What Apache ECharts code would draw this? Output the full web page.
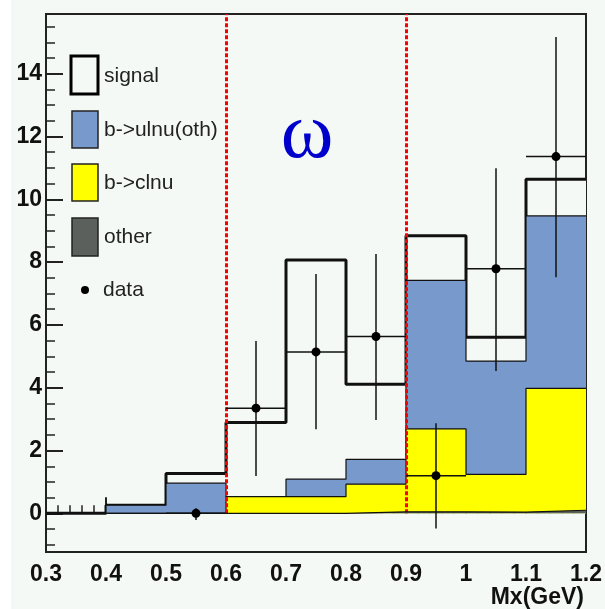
<!DOCTYPE html>
<html>
<head>
<meta charset="utf-8">
<script src="https://cdn.jsdelivr.net/npm/echarts@6/dist/echarts.min.js"></script>
<style>
  html, body { margin: 0; padding: 0; background: #ffffff; }
  #chart { width: 605px; height: 609px; }
</style>
</head>
<body>
<div id="chart"></div>
<script>
// histogram bins in Mx (GeV)
const binEdges = [0.3, 0.4, 0.5, 0.6, 0.7, 0.8, 0.9, 1.0, 1.1, 1.2];
// stacked components, per bin (bottom to top)
const otherVals  = [0, 0, 0, 0, 0, 0.05, 0.05, 0.04, 0.1];
const clnuVals   = [0, 0, 0, 0.53, 0.53, 0.88, 2.64, 1.2, 3.88];
const ulnuVals   = [0, 0.26, 0.96, 0, 0.56, 0.79, 4.73, 3.61, 5.49];
const signalVals = [0, 0, 0.31, 2.36, 6.98, 2.39, 1.42, 0.76, 1.17];
// data points with errors
const dataVals    = [null, null, 0, 3.35, 5.14, 5.63, 1.2, 7.79, 11.36];
const dataErrUp   = [null, null, 0.16, 2.14, 2.48, 2.63, 1.67, 3.2, 3.81];
const dataErrDown = [null, null, 0.21, 2.16, 2.46, 2.66, 1.68, 3.26, 3.84];
// axes
const yTicks = [0, 2, 4, 6, 8, 10, 12, 14];
const yMinorTicks = [-1, -0.5, 0.5, 1, 1.5, 2.5, 3, 3.5, 4.5, 5, 5.5, 6.5, 7, 7.5,
  8.5, 9, 9.5, 10.5, 11, 11.5, 12.5, 13, 13.5, 14.5, 15, 15.5];
const cutLines = [0.6, 0.9];

const BG = '#f5f9f6';
const FONT = '"Liberation Sans", Arial, sans-serif';

// cumulative sums for the stack
function addArr(a, b) { return a.map((v, i) => v + b[i]); }
const cumOther = otherVals.slice();
const cumClnu = addArr(cumOther, clnuVals);
const cumUlnu = addArr(cumClnu, ulnuVals);
const cumTotal = addArr(cumUlnu, signalVals);

function stepData(vals) {
  const pts = vals.map((v, i) => [binEdges[i], v]);
  pts.push([binEdges[binEdges.length - 1], vals[vals.length - 1]]);
  return pts;
}

function histSeries(name, vals, fill, lineW, z) {
  return {
    name: name,
    type: 'line',
    step: 'end',
    data: stepData(vals),
    showSymbol: false,
    symbol: 'none',
    silent: true,
    z: z,
    lineStyle: { color: '#111', width: lineW },
    areaStyle: { color: fill, opacity: 1 }
  };
}

const pointData = [];
dataVals.forEach((v, i) => {
  if (v === null) return;
  pointData.push([binEdges[i], binEdges[i + 1], v, v - dataErrDown[i], v + dataErrUp[i]]);
});

let chart = echarts.init(document.getElementById('chart'));
let option = {
  backgroundColor: BG,
  animation: false,
  grid: {
    left: 46, right: 19, top: 14, bottom: 57,
    show: true, borderColor: '#222', borderWidth: 2, backgroundColor: 'transparent'
  },
  xAxis: {
    type: 'value',
    min: 0.3, max: 1.2, interval: 0.1,
    axisLine: { show: false },
    axisTick: { show: true, inside: true, length: 16, lineStyle: { color: '#222', width: 2 } },
    minorTick: { show: true, splitNumber: 5, length: 8, lineStyle: { color: '#222', width: 1.5 } },
    splitLine: { show: false },
    axisLabel: { fontFamily: FONT, fontWeight: 'bold', fontSize: 23, color: '#111', margin: 11 }
  },
  yAxis: [
    {
      type: 'value',
      min: -1.23, max: 15.9,
      axisLine: { show: false },
      axisTick: { show: true, inside: true, length: 17, customValues: yTicks, lineStyle: { color: '#222', width: 2 } },
      splitLine: { show: false },
      axisLabel: { customValues: yTicks, fontFamily: FONT, fontWeight: 'bold', fontSize: 23, color: '#111', margin: 4 }
    },
    {
      type: 'value',
      position: 'left',
      min: -1.23, max: 15.9,
      axisLine: { show: false },
      axisTick: { show: true, inside: true, length: 9, customValues: yMinorTicks, lineStyle: { color: '#222', width: 1.5 } },
      splitLine: { show: false },
      axisLabel: { show: false }
    }
  ],
  series: [
    histSeries('signal', cumTotal, BG, 3, 2),
    histSeries('b->ulnu(oth)', cumUlnu, '#7899cc', 1.2, 3),
    histSeries('b->clnu', cumClnu, '#ffff00', 1.2, 4),
    histSeries('other', cumOther, '#5b605c', 1.2, 5),
    {
      name: 'data',
      type: 'custom',
      z: 8,
      silent: true,
      data: pointData,
      renderItem: function (params, api) {
        const x0 = api.value(0), x1 = api.value(1), y = api.value(2);
        const xc = (x0 + x1) / 2;
        const pL = api.coord([x0, y]), pR = api.coord([x1, y]);
        const pLo = api.coord([xc, api.value(3)]), pHi = api.coord([xc, api.value(4)]);
        const st = { stroke: '#111', lineWidth: 1.5 };
        return {
          type: 'group',
          children: [
            { type: 'line', shape: { x1: pL[0], y1: pL[1], x2: pR[0], y2: pR[1] }, style: st },
            { type: 'line', shape: { x1: pLo[0], y1: pLo[1], x2: pHi[0], y2: pHi[1] }, style: st },
            { type: 'circle', shape: { cx: pHi[0], cy: pL[1], r: 4.5 }, style: { fill: '#000' } }
          ]
        };
      },
      markLine: {
        silent: true,
        symbol: 'none',
        label: { show: false },
        lineStyle: { color: '#ff0000', width: 3, type: [4, 2] },
        data: cutLines.map(x => [{ coord: [x, 0] }, { coord: [x, 15.9] }])
      }
    }
  ],
  graphic: [
    { type: 'rect', left: 0, top: 0, shape: { width: 11, height: 609 }, style: { fill: '#ffffff' }, z: -10 },
    { type: 'text', x: 307, y: 136, style: { text: 'ω', font: '80px "Liberation Serif", "DejaVu Serif", serif', fill: '#0000cc', align: 'center', verticalAlign: 'middle' } },
    { type: 'text', x: 584, y: 598, style: { text: 'Mx(GeV)', font: 'bold 23px ' + FONT, fill: '#111', align: 'right', verticalAlign: 'middle' } },
    // legend
    { type: 'rect', shape: { x: 71, y: 56, width: 27, height: 38 }, style: { fill: BG, stroke: '#000', lineWidth: 3 } },
    { type: 'text', x: 104, y: 76, style: { text: 'signal', font: '21px ' + FONT, fill: '#222', verticalAlign: 'middle' } },
    { type: 'rect', shape: { x: 72, y: 111, width: 26, height: 37 }, style: { fill: '#7899cc', stroke: '#222', lineWidth: 1.5 } },
    { type: 'text', x: 104, y: 130, style: { text: 'b->ulnu(oth)', font: '21px ' + FONT, fill: '#222', verticalAlign: 'middle' } },
    { type: 'rect', shape: { x: 72, y: 164, width: 26, height: 37 }, style: { fill: '#ffff00', stroke: '#222', lineWidth: 1.5 } },
    { type: 'text', x: 104, y: 183, style: { text: 'b->clnu', font: '21px ' + FONT, fill: '#222', verticalAlign: 'middle' } },
    { type: 'rect', shape: { x: 72, y: 218, width: 26, height: 38 }, style: { fill: '#5b605c', stroke: '#222', lineWidth: 1.5 } },
    { type: 'text', x: 104, y: 237, style: { text: 'other', font: '21px ' + FONT, fill: '#222', verticalAlign: 'middle' } },
    { type: 'circle', shape: { cx: 85, cy: 290, r: 4 }, style: { fill: '#000' } },
    { type: 'text', x: 103, y: 290, style: { text: 'data', font: '21px ' + FONT, fill: '#222', verticalAlign: 'middle' } }
  ]
};
chart.setOption(option);
</script>
</body>
</html>
